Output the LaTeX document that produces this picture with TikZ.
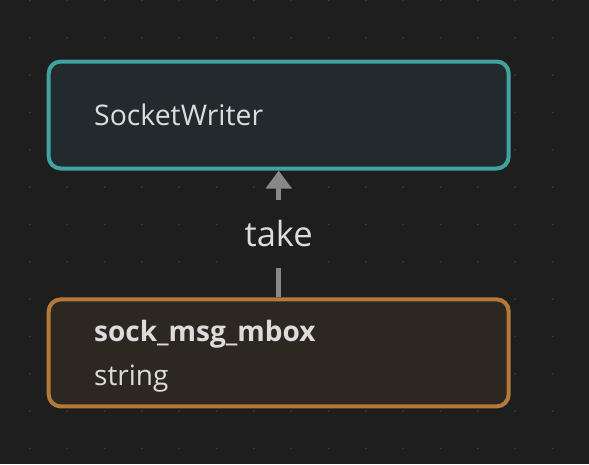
\documentclass[tikz,border=0pt]{standalone}
\usepackage{fontspec}
\setmainfont{Open Sans}
\usetikzlibrary{arrows.meta}
\definecolor{bg}{HTML}{1E1E1E}
\definecolor{griddot}{HTML}{3A3A3A}
\definecolor{tealb}{HTML}{40A3A0}
\definecolor{tealf}{HTML}{232A2D}
\definecolor{orangeb}{HTML}{B5793A}
\definecolor{orangef}{HTML}{2D2722}
\definecolor{txt}{HTML}{DCDCDC}
\definecolor{edgec}{HTML}{888888}
\tikzset{
  box/.style={rectangle, rounded corners=12pt, line width=4pt, minimum width=460pt, minimum height=107pt, inner sep=0pt},
  lbl/.style={anchor=base west, inner sep=0pt, text=txt},
  conn/.style={draw=edgec, line width=5pt, -{Triangle[width=25pt,length=18pt]}},
}
\begin{document}
\begin{tikzpicture}[x=1pt,y=-1pt]
\fill[bg] (0,0) rectangle (589,464);
\useasboundingbox (0,0) rectangle (589,464);
\foreach \i in {0,...,15}{
  \foreach \j in {0,...,12}{
    \fill[griddot] (30+37.33*\i, 0.5+37.33*\j) circle (1pt);
  }
}
\node[box, draw=tealb, fill=tealf] (sw) at (278.7,115) {};
\node[box, draw=orangeb, fill=orangef] (sock) at (278.7,352.9) {};
\node[lbl, font=\fontsize{28.4}{32}\selectfont] (swtext) at (94,125) {SocketWriter};
\node[lbl, font=\fontsize{28}{32}\selectfont\bfseries] (socktitle) at (94,341) {sock\_msg\_mbox};
\node[lbl, font=\fontsize{28}{32}\selectfont] (socktype) at (94,385) {string};
\draw[conn] (sock.north) -- node[fill=bg, inner sep=0pt, minimum height=68pt, minimum width=76pt, text=txt, font=\fontsize{34.5}{38}\selectfont] (take) {take} (sw.south);
\end{tikzpicture}
\end{document}
